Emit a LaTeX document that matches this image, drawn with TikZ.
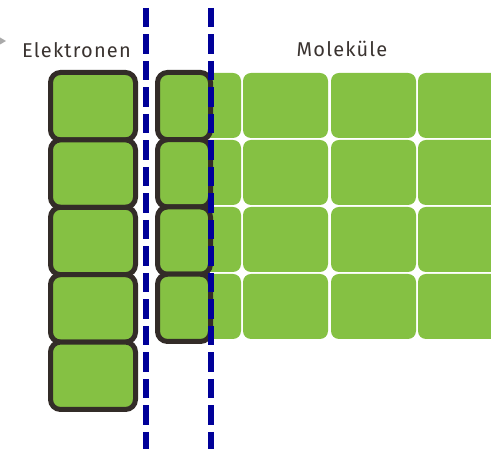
\documentclass[tikz,border=0pt]{standalone}
\usepackage{fontspec}
\setmainfont{Fira Sans}[LetterSpace=6]
\definecolor{cellgreen}{HTML}{85C143}
\definecolor{rim}{HTML}{332C28}
\definecolor{sep}{HTML}{000099}
\definecolor{txt}{HTML}{3A3330}
\definecolor{arrowgray}{HTML}{AAAAAA}
\begin{document}
\begin{tikzpicture}[x=1pt,y=1pt,
  cell/.style={fill=cellgreen,rounded corners=8pt},
  ebox/.style={fill=cellgreen,draw=rim,line width=5pt,rounded corners=10pt},
  sepline/.style={draw=sep,line width=6pt,dash pattern=on 19.5pt off 7pt},
  lbl/.style={font=\fontsize{20}{24}\selectfont,text=txt,inner sep=0pt}]
\useasboundingbox (0,0) rectangle (491,449);
\begin{scope}
\clip (0,0) rectangle (491,449);
% molecule grid
\foreach \c/\xx in {0/156,1/243,2/331,3/418}{
  \foreach \r in {0,1,2,3}{
    \path[cell] (\xx,{449-73-67*\r}) rectangle ({\xx+85},{449-73-67*\r-65});
  }
}
% electron boxes left column
\foreach \r in {0,...,4}{
  \path[ebox] (50.5,{449-72.5-67.4*\r}) rectangle (135.5,{449-72.5-67.4*(\r+1)});
}
% electron boxes second column
\foreach \r in {0,...,3}{
  \path[ebox] (157.5,{449-72.5-67.25*\r}) rectangle (210.5,{449-72.5-67.25*(\r+1)});
}
% separators
\coordinate (s1top) at (146,441);
\coordinate (s1bot) at (146,0);
\coordinate (s2top) at (211,441);
\coordinate (s2bot) at (211,0);
\draw[sepline] (s1top) -- (s1bot);
\draw[sepline] (s2top) -- (s2bot);
\end{scope}
% labels
\node[lbl,anchor=base west] (el) at (22,391) {Elektronen};
\node[lbl,anchor=base] (mo) at (342,392) {Moleküle};
\fill[arrowgray] (0,411.5) -- (0,404.5) -- (6,408) -- cycle;
\end{tikzpicture}
\end{document}
